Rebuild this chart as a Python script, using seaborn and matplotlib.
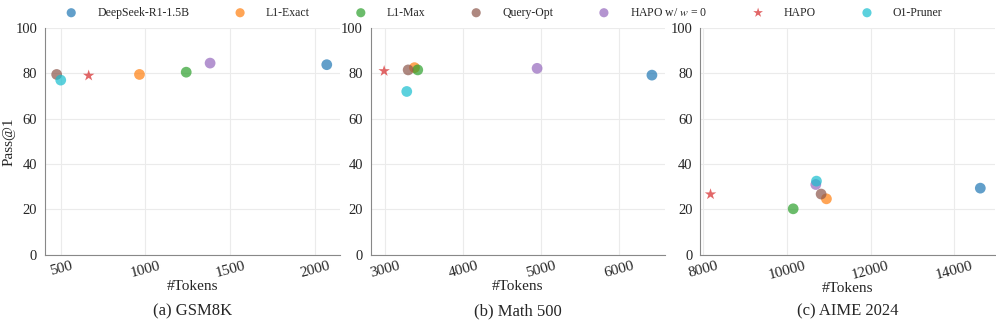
import pandas as pd
import numpy as np
import matplotlib.pyplot as plt
import seaborn as sns

sns.set_style("whitegrid")
plt.rcParams['font.family'] = ['Liberation Serif', 'DejaVu Serif']
plt.rcParams['mathtext.fontset'] = 'stix'

methods = ['DeepSeek-R1-1.5B', 'L1-Exact', 'L1-Max', 'Query-Opt', 'HAPO w/ $w$ = 0', 'HAPO', 'O1-Pruner']
colors = ['#1f77b4', '#ff7f0e', '#2ca02c', '#8c564b', '#9467bd', '#d62728', '#17becf']
markers = ['o', 'o', 'o', 'o', 'o', '*', 'o']

# tokens / pass@1 for each dataset, in the order of methods
gsm_tokens = [2071, 965, 1241, 476, 1382, 665, 500]
gsm_pass = [83.8, 79.5, 80.5, 79.5, 84.5, 79.0, 77.0]
math_tokens = [6418, 3372, 3414, 3291, 4945, 2983, 3273]
math_pass = [79.2, 82.5, 81.5, 81.5, 82.2, 81.0, 72.0]
aime_tokens = [14619, 10944, 10150, 10817, 10690, 8176, 10706]
aime_pass = [29.4, 24.7, 20.3, 26.8, 31.0, 26.7, 32.5]

panels = [
    ('(a) GSM8K', gsm_tokens, gsm_pass, [500, 1000, 1500, 2000], (406, 2147)),
    ('(b) Math 500', math_tokens, math_pass, [3000, 4000, 5000, 6000], (2808, 6590)),
    ('(c) AIME 2024', aime_tokens, aime_pass, [8000, 10000, 12000, 14000], (7929, 14970)),
]

fig = plt.figure(figsize=(9.96, 3.21), dpi=100)
lefts = [0.045, 0.372, 0.703]

for i, (title, xs, ys, xticks, xlim) in enumerate(panels):
    ax = fig.add_axes([lefts[i], 0.206, 0.296, 0.707])
    df = pd.DataFrame({'method': methods, 'tokens': xs, 'pass': ys})
    for m, c, mk in zip(methods, colors, markers):
        d = df[df['method'] == m]
        sns.scatterplot(data=d, x='tokens', y='pass', color=c, marker=mk,
                        s=60 if mk == 'o' else 75, alpha=0.7, edgecolor='none',
                        label=m, ax=ax, legend=False)
    ax.set_xlim(xlim)
    ax.set_ylim(0, 100)
    ax.set_xticks(xticks)
    ax.set_yticks([0, 20, 40, 60, 80, 100])
    ax.tick_params(axis='x', labelrotation=15, labelsize=11, pad=0)
    ax.tick_params(axis='y', labelsize=10.5, pad=2)
    ax.set_xlabel('#Tokens', fontsize=11, labelpad=0)
    ax.set_ylabel('Pass@1' if i == 0 else '', fontsize=11)
    ax.yaxis.set_label_coords(-0.1, 0.5)
    ax.grid(True, color='#ebebeb', linewidth=0.8)
    for s in ['top', 'right']:
        ax.spines[s].set_visible(False)
    for s in ['left', 'bottom']:
        ax.spines[s].set_color('#888888')
    ax.text(0.5, -0.215, title, transform=ax.transAxes, ha='center', va='top', fontsize=12)
    if i == 0:
        handles, labels = ax.get_legend_handles_labels()

fig.legend(handles, labels, loc='center', bbox_to_anchor=(0.503, 0.96), ncol=7,
           frameon=False, fontsize=8.5, handletextpad=1.2, columnspacing=3.3,
           markerscale=0.85)

plt.savefig('out.png', dpi=100)
